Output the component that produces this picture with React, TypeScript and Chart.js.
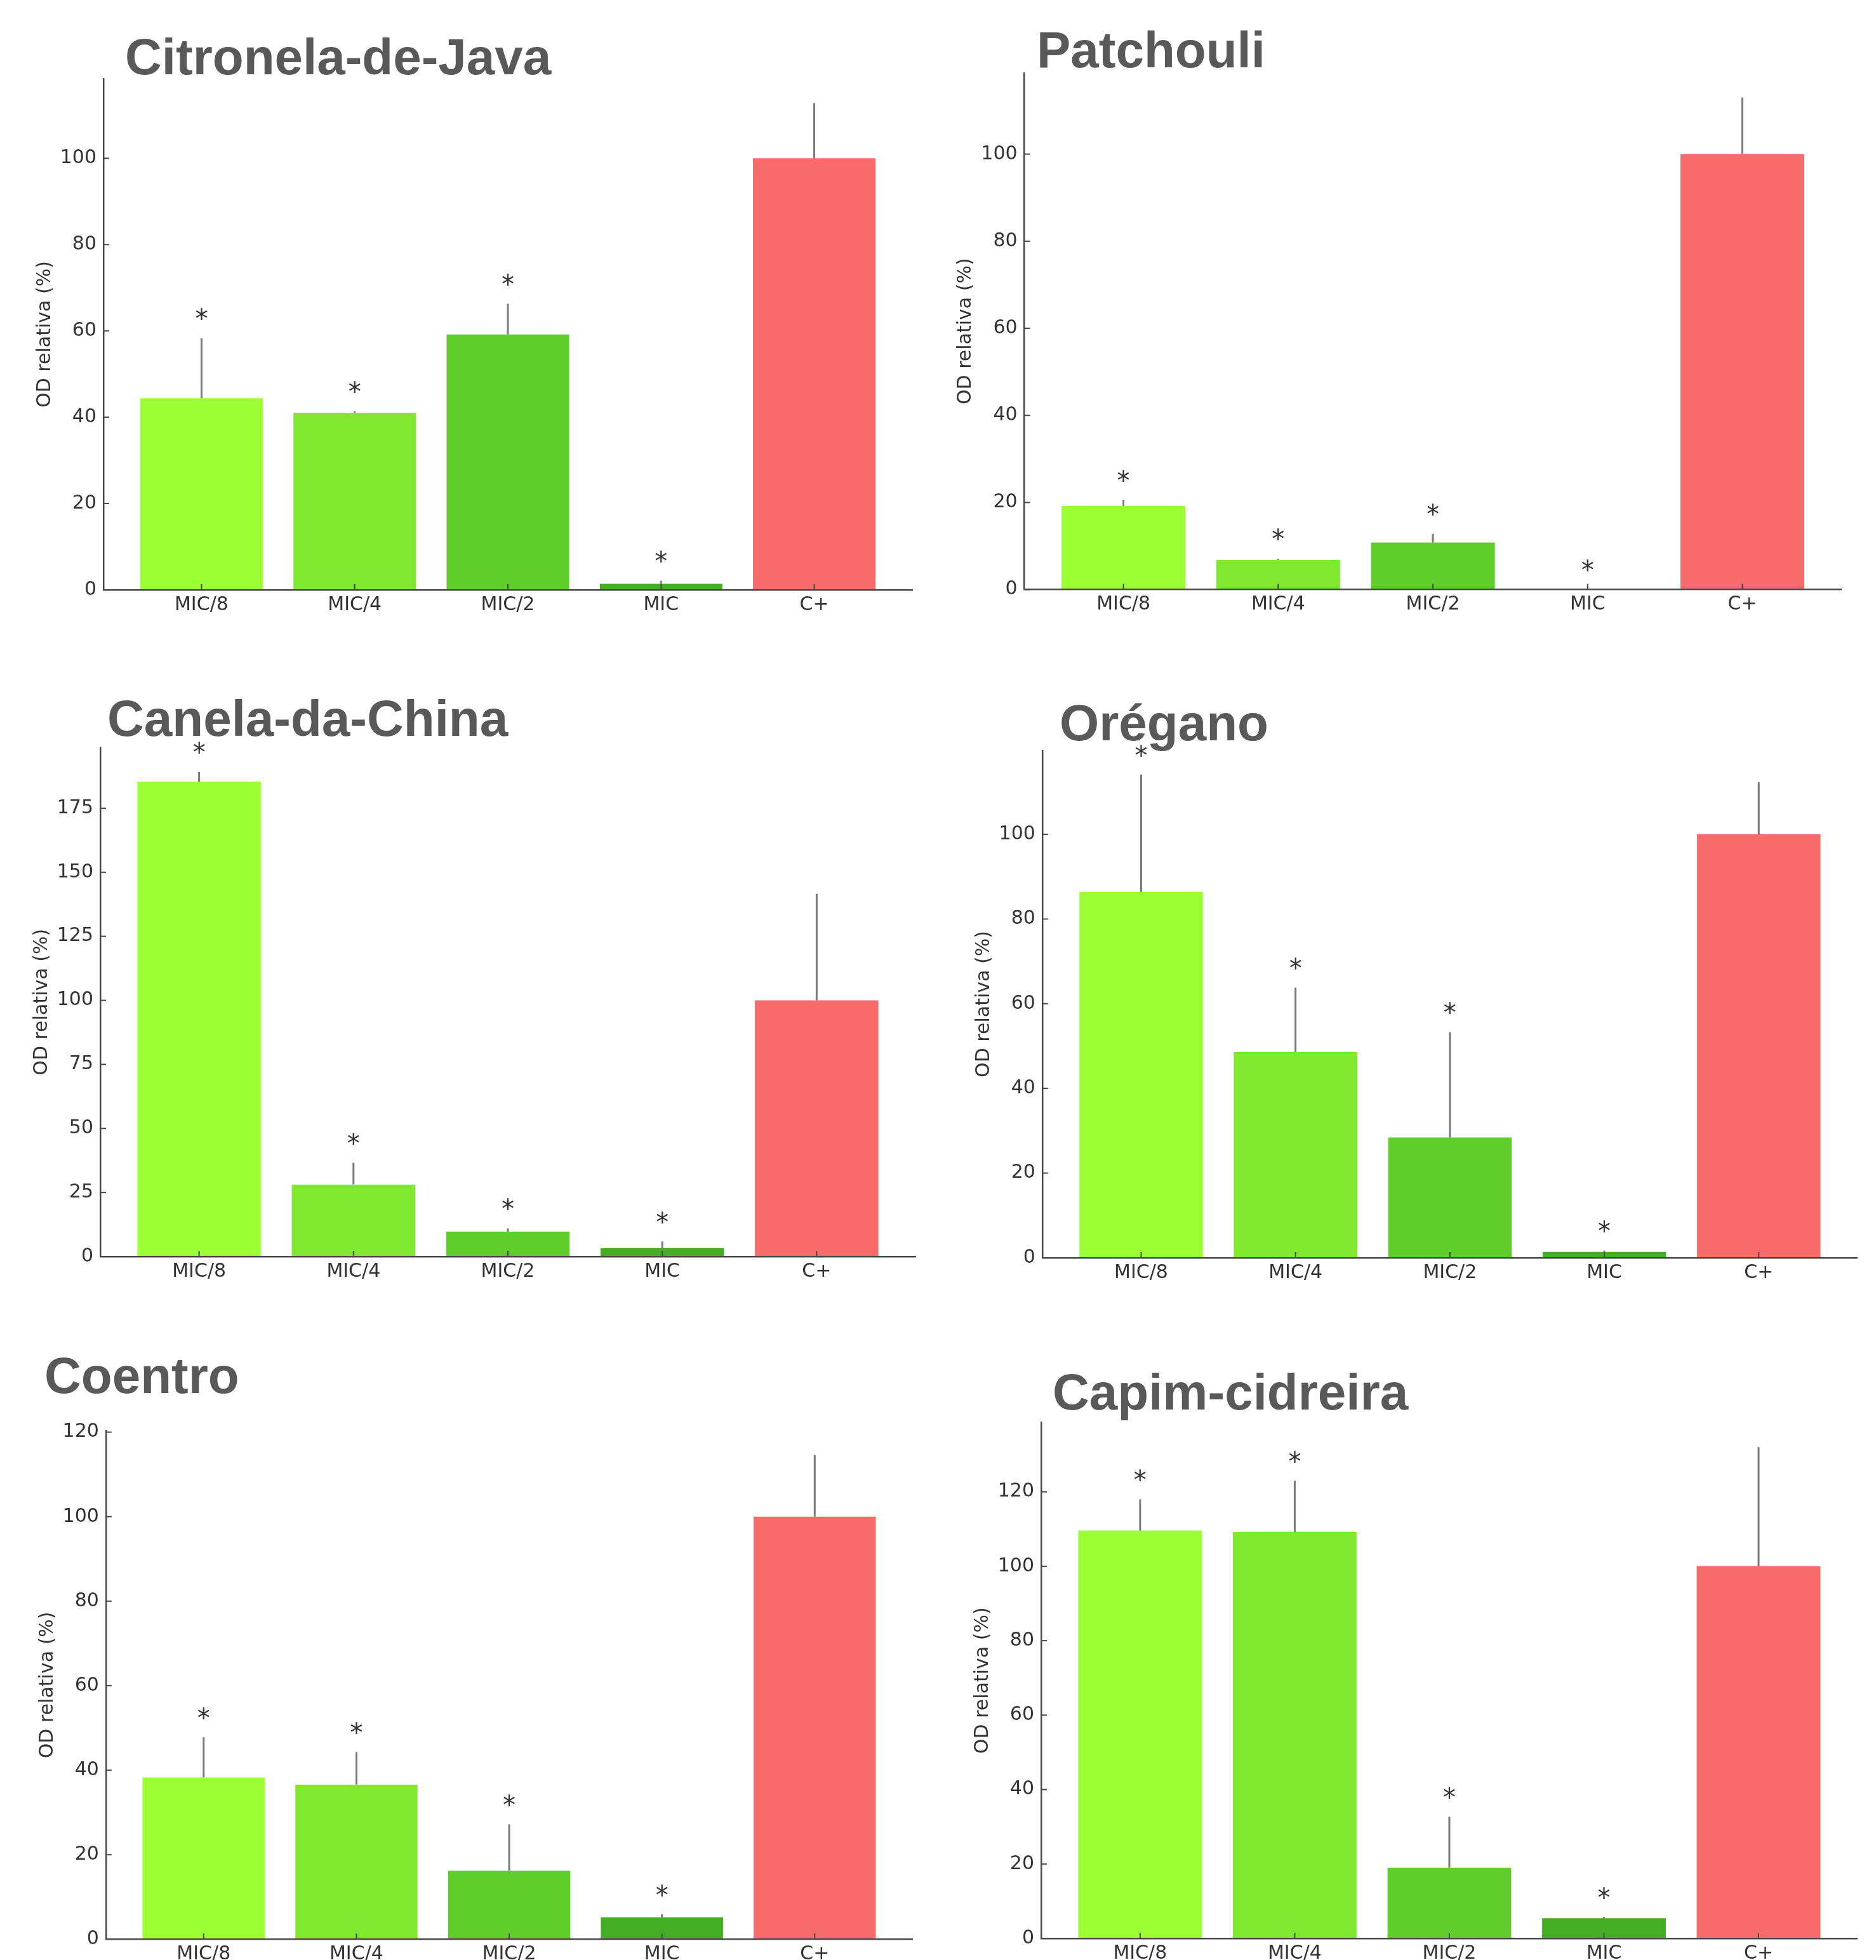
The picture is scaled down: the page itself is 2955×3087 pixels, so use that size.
import React, { useEffect, useRef } from "react";
import { Chart, registerables } from "chart.js";

Chart.register(...registerables);

// ---------------- data ----------------
const categories = ["MIC/8", "MIC/4", "MIC/2", "MIC", "C+"];
const significant = [true, true, true, true, false];

const citronelaValues = [44.4, 41.0, 59.2, 1.4, 100];
const citronelaErrors = [13.9, 0.4, 7.1, 0.7, 12.8];

const patchouliValues = [19.2, 6.8, 10.8, 0, 100];
const patchouliErrors = [1.4, 0.3, 2.0, 0, 13.0];

const canelaValues = [185.4, 28.1, 9.7, 3.3, 100];
const canelaErrors = [3.8, 8.5, 1.3, 2.6, 41.6];

const oreganoValues = [86.4, 48.6, 28.4, 1.4, 100];
const oreganoErrors = [27.7, 15.2, 24.9, 0.3, 12.3];

const coentroValues = [38.3, 36.6, 16.2, 5.2, 100];
const coentroErrors = [9.5, 7.7, 11.0, 0.7, 14.6];

const capimValues = [109.6, 109.2, 19.0, 5.4, 100];
const capimErrors = [8.4, 13.8, 13.7, 0.4, 32.0];

const yTicksTo100 = [0, 20, 40, 60, 80, 100];
const yTicksTo120 = [0, 20, 40, 60, 80, 100, 120];
const yTicksTo175 = [0, 25, 50, 75, 100, 125, 150, 175];

const yAxisLabel = "OD relativa (%)";

// ---------------- styles ----------------
const barColors = ["#9bff33", "#7ee92e", "#5fcd2a", "#43ae24", "#f76b6b"];
const AXIS_COLOR = "#484848";
const TEXT_COLOR = "#333333";
const ERR_COLOR = "#7a7a7a";
const TITLE_COLOR = "#595959";
const Y_SCALE_W = 110;
const X_SCALE_H = 60;

type Box = { x: number; y: number; w: number; h: number };
type Area = { l: number; t: number; r: number; b: number };

const PANELS = [
  {
    title: "Citronela-de-Java",
    values: citronelaValues,
    errors: citronelaErrors,
    yTicks: yTicksTo100,
    box: { x: 0, y: 0, w: 1477, h: 1030 },
    area: { l: 163, t: 124, r: 1437, b: 929 },
    titlePos: { x: 197, y: 117 },
  },
  {
    title: "Patchouli",
    values: patchouliValues,
    errors: patchouliErrors,
    yTicks: yTicksTo100,
    box: { x: 1477, y: 0, w: 1478, h: 1030 },
    area: { l: 1613.6, t: 114.8, r: 2900.5, b: 928.6 },
    titlePos: { x: 1633, y: 106 },
  },
  {
    title: "Canela-da-China",
    values: canelaValues,
    errors: canelaErrors,
    yTicks: yTicksTo175,
    box: { x: 0, y: 1030, w: 1477, h: 1030 },
    area: { l: 158, t: 1177.5, r: 1442, b: 1979 },
    titlePos: { x: 169, y: 1159 },
  },
  {
    title: "Orégano",
    values: oreganoValues,
    errors: oreganoErrors,
    yTicks: yTicksTo100,
    box: { x: 1477, y: 1030, w: 1478, h: 1030 },
    area: { l: 1641.8, t: 1182, r: 2925.9, b: 1981 },
    titlePos: { x: 1669, y: 1166 },
  },
  {
    title: "Coentro",
    values: coentroValues,
    errors: coentroErrors,
    yTicks: yTicksTo120,
    box: { x: 0, y: 2060, w: 1477, h: 1100 },
    area: { l: 166.8, t: 2253.4, r: 1437.3, b: 3054.3 },
    titlePos: { x: 70, y: 2194 },
  },
  {
    title: "Capim-cidreira",
    values: capimValues,
    errors: capimErrors,
    yTicks: yTicksTo120,
    box: { x: 1477, y: 2060, w: 1478, h: 1100 },
    area: { l: 1640, t: 2240.6, r: 2925.9, b: 3053 },
    titlePos: { x: 1658, y: 2220 },
  },
];

type PanelCfg = (typeof PANELS)[number];

function makeDecorPlugin(cfg: PanelCfg) {
  return {
    id: "decor",
    afterDatasetsDraw(chart: any) {
      const ctx = chart.ctx as CanvasRenderingContext2D;
      const ys = chart.scales.y;
      const meta = chart.getDatasetMeta(0);
      ctx.save();
      // error bars (upper only)
      ctx.strokeStyle = ERR_COLOR;
      ctx.lineWidth = 3;
      meta.data.forEach((el: any, i: number) => {
        const v = cfg.values[i];
        const e = cfg.errors[i];
        if (!e) return;
        const y0 = ys.getPixelForValue(v);
        const y1 = ys.getPixelForValue(v + e);
        ctx.beginPath();
        ctx.moveTo(el.x, y0);
        ctx.lineTo(el.x, y1);
        ctx.stroke();
      });
      ctx.restore();
    },
    afterDraw(chart: any) {
      const ctx = chart.ctx as CanvasRenderingContext2D;
      const ys = chart.scales.y;
      const xs = chart.scales.x;
      const area = chart.chartArea;
      const meta = chart.getDatasetMeta(0);
      ctx.save();
      // inward tick marks
      ctx.strokeStyle = AXIS_COLOR;
      ctx.lineWidth = 2;
      ys.ticks.forEach((t: any) => {
        const py = ys.getPixelForValue(t.value);
        ctx.beginPath();
        ctx.moveTo(area.left, py);
        ctx.lineTo(area.left + 9, py);
        ctx.stroke();
      });
      xs.ticks.forEach((t: any) => {
        const px = xs.getPixelForValue(t.value);
        ctx.beginPath();
        ctx.moveTo(px, area.bottom);
        ctx.lineTo(px, area.bottom - 9);
        ctx.stroke();
      });
      // asterisks
      ctx.fillStyle = TEXT_COLOR;
      ctx.font = '40px "DejaVu Sans", sans-serif';
      ctx.textAlign = "center";
      ctx.textBaseline = "alphabetic";
      const m = ctx.measureText("*");
      const asc = m.actualBoundingBoxAscent;
      const desc = m.actualBoundingBoxDescent;
      meta.data.forEach((el: any, i: number) => {
        if (!significant[i]) return;
        const top = ys.getPixelForValue(cfg.values[i] + cfg.errors[i]);
        const cy = top - 38;
        ctx.fillText("*", el.x, cy + (asc - desc) / 2);
      });
      // panel title
      ctx.fillStyle = TITLE_COLOR;
      ctx.font = 'bold 80px "Liberation Sans", Arial, sans-serif';
      ctx.textAlign = "left";
      ctx.textBaseline = "alphabetic";
      ctx.fillText(cfg.title, cfg.titlePos.x - cfg.box.x, cfg.titlePos.y - cfg.box.y);
      ctx.restore();
    },
  };
}

function Panel({ cfg }: { cfg: PanelCfg }) {
  const ref = useRef<HTMLCanvasElement | null>(null);
  useEffect(() => {
    const canvas = ref.current;
    if (!canvas) return;
    const { box, area } = cfg;
    const maxTop = Math.max(...cfg.values.map((v, i) => v + cfg.errors[i]));
    const yMax = maxTop * 1.05;
    const tickFont = { family: "'DejaVu Sans', sans-serif", size: 30 };
    const chart = new Chart(canvas, {
      type: "bar",
      data: {
        datasets: [
          {
            data: cfg.values.map((v, i) => ({ x: i, y: v })),
            backgroundColor: barColors,
            borderWidth: 0,
            barPercentage: 0.8,
            categoryPercentage: 1.0,
          },
        ],
      },
      options: {
        animation: false,
        responsive: false,
        maintainAspectRatio: false,
        devicePixelRatio: 1,
        layout: {
          padding: {
            left: area.l - box.x - Y_SCALE_W,
            top: area.t - box.y,
            right: box.x + box.w - area.r,
            bottom: box.y + box.h - area.b - X_SCALE_H,
          },
        },
        plugins: {
          legend: { display: false },
          tooltip: { enabled: false },
          title: { display: false },
        },
        scales: {
          x: {
            type: "linear",
            min: -0.64,
            max: 4.64,
            offset: false,
            grid: { display: false, drawTicks: false },
            border: { display: true, color: AXIS_COLOR, width: 2.5, z: 1 },
            afterBuildTicks: (s: any) => {
              s.ticks = categories.map((_, i) => ({ value: i }));
            },
            afterFit: (s: any) => {
              s.height = X_SCALE_H;
            },
            ticks: {
              autoSkip: false,
              maxRotation: 0,
              minRotation: 0,
              padding: 6,
              color: TEXT_COLOR,
              font: tickFont,
              callback: (v: any) => categories[Math.round(Number(v))] ?? "",
            },
          },
          y: {
            type: "linear",
            min: 0,
            max: yMax,
            grid: { display: false, drawTicks: false },
            border: { display: true, color: AXIS_COLOR, width: 2.5, z: 1 },
            afterBuildTicks: (s: any) => {
              s.ticks = cfg.yTicks.map((v) => ({ value: v }));
            },
            afterFit: (s: any) => {
              s.width = Y_SCALE_W;
            },
            ticks: {
              padding: 11,
              color: TEXT_COLOR,
              font: tickFont,
              callback: (v: any) => String(v),
            },
            title: {
              display: true,
              text: yAxisLabel,
              color: TEXT_COLOR,
              font: tickFont,
              padding: 0,
            },
          },
        },
      } as any,
      plugins: [makeDecorPlugin(cfg)],
    });
    return () => chart.destroy();
  }, [cfg]);
  return (
    <canvas
      ref={ref}
      width={cfg.box.w}
      height={cfg.box.h}
      style={{
        position: "absolute",
        left: cfg.box.x,
        top: cfg.box.y,
        width: cfg.box.w,
        height: cfg.box.h,
      }}
    />
  );
}

export default function App() {
  return (
    <div
      style={{
        position: "absolute",
        left: 0,
        top: 0,
        width: 2955,
        height: 3087,
        overflow: "hidden",
        background: "#ffffff",
      }}
    >
      {PANELS.map((p) => (
        <Panel key={p.title} cfg={p} />
      ))}
    </div>
  );
}
